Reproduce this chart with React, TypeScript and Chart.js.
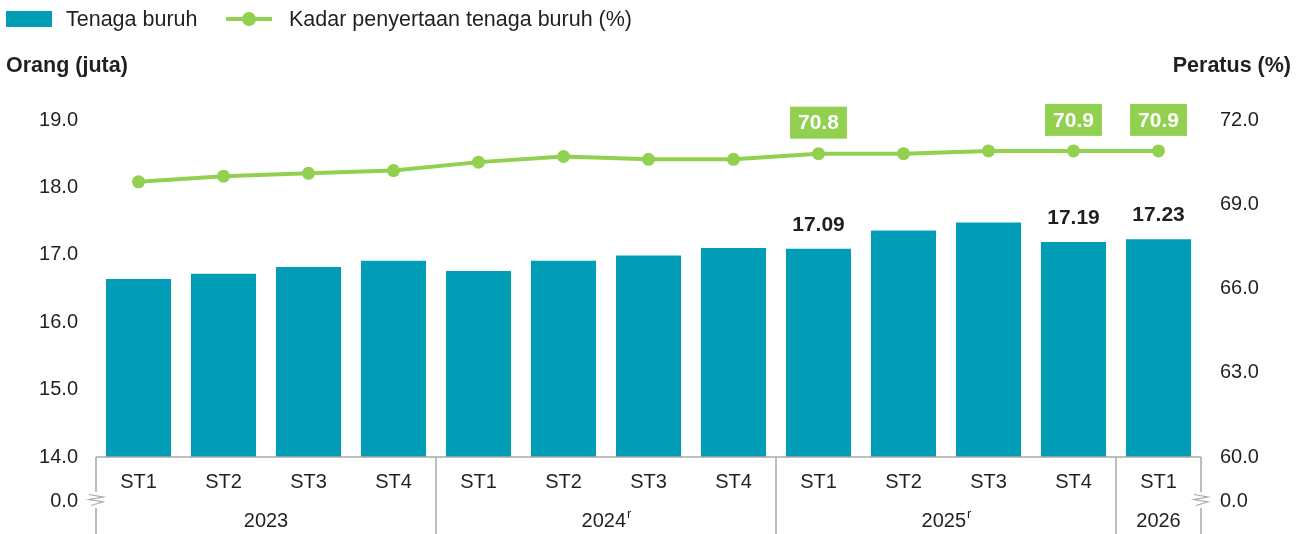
import React, { useEffect, useRef } from "react";
import { Chart, registerables } from "chart.js";

Chart.register(...registerables);

const quarters = ["ST1", "ST2", "ST3", "ST4", "ST1", "ST2", "ST3", "ST4", "ST1", "ST2", "ST3", "ST4", "ST1"];
const years = ["2023", "2024", "2025", "2026"];
const yearSuffix = ["", "r", "r", ""];
const yearSpans = [4, 4, 4, 1];
const labourForce = [16.64, 16.72, 16.82, 16.91, 16.76, 16.91, 16.99, 17.1, 17.09, 17.36, 17.48, 17.19, 17.23];
const participationRate = [69.8, 70.0, 70.1, 70.2, 70.5, 70.7, 70.6, 70.6, 70.8, 70.8, 70.9, 70.9, 70.9];
const labelledIndices = [8, 11, 12];
const seriesNames = ["Tenaga buruh", "Kadar penyertaan tenaga buruh (%)"];
const axisTitles = ["Orang (juta)", "Peratus (%)"];
const axisZeroLabel = "0.0";

const FONT = '"Liberation Sans", Arial, Helvetica, sans-serif';
const TEXT = "#231F20";
const TEAL = "#019DB6";
const GREEN = "#92D050";
const AXIS = "#A8A8A8";

const overlayPlugin = {
  id: "overlay",
  afterDraw(chart: any) {
    const ctx: CanvasRenderingContext2D = chart.ctx;
    const area = chart.chartArea;
    const xs = chart.scales.x;
    ctx.save();

    // Legend
    const ds0 = chart.data.datasets[0];
    const ds1 = chart.data.datasets[1];
    ctx.fillStyle = ds0.backgroundColor;
    ctx.fillRect(6, 11, 46, 16);
    ctx.font = `21.5px ${FONT}`;
    ctx.fillStyle = TEXT;
    ctx.textBaseline = "middle";
    ctx.textAlign = "left";
    ctx.fillText(ds0.label, 66, 20);
    ctx.strokeStyle = ds1.borderColor;
    ctx.lineWidth = 4;
    ctx.beginPath();
    ctx.moveTo(226, 19);
    ctx.lineTo(272, 19);
    ctx.stroke();
    ctx.fillStyle = ds1.borderColor;
    ctx.beginPath();
    ctx.arc(249, 19, 7, 0, Math.PI * 2);
    ctx.fill();
    ctx.fillStyle = TEXT;
    ctx.fillText(ds1.label, 289, 20);

    // Axis titles
    ctx.font = `bold 21.5px ${FONT}`;
    ctx.textBaseline = "alphabetic";
    ctx.textAlign = "left";
    ctx.fillText(axisTitles[0], 6, 72);
    ctx.textAlign = "right";
    ctx.fillText(axisTitles[1], 1291, 72);

    // Value labels
    const barMeta = chart.getDatasetMeta(0);
    const lineMeta = chart.getDatasetMeta(1);
    ctx.font = `bold 21px ${FONT}`;
    ctx.textAlign = "center";
    ctx.textBaseline = "middle";
    labelledIndices.forEach((i) => {
      const bar = barMeta.data[i];
      ctx.fillStyle = TEXT;
      ctx.fillText(labourForce[i].toFixed(2), bar.x, bar.y - 24);
      const pt = lineMeta.data[i];
      const txt = participationRate[i].toFixed(1);
      const w = ctx.measureText(txt).width + 16;
      const h = 32;
      const cy = pt.y - 31;
      ctx.fillStyle = GREEN;
      ctx.fillRect(pt.x - w / 2, cy - h / 2, w, h);
      ctx.fillStyle = "#FFFFFF";
      ctx.fillText(txt, pt.x, cy + 1);
    });

    // Bottom category axis
    const bottom = chart.height;
    const gapTop = 492;
    const gapBottom = 508;
    ctx.strokeStyle = AXIS;
    ctx.lineWidth = 1.5;
    ctx.beginPath();
    ctx.moveTo(area.left, area.bottom);
    ctx.lineTo(area.right, area.bottom);
    ctx.stroke();
    [area.left, area.right].forEach((x) => {
      ctx.beginPath();
      ctx.moveTo(x, area.bottom);
      ctx.lineTo(x, gapTop);
      ctx.moveTo(x, gapBottom);
      ctx.lineTo(x, bottom);
      ctx.stroke();
      // break mark (zigzag)
      ctx.lineWidth = 1.2;
      ctx.beginPath();
      ctx.moveTo(x - 7, 494.5);
      ctx.lineTo(x + 7, 497);
      ctx.lineTo(x - 7, 499.5);
      ctx.lineTo(x + 7, 502);
      ctx.lineTo(x - 5, 505.5);
      ctx.stroke();
      ctx.lineWidth = 1.5;
    });
    let idx = 0;
    const bounds: number[] = [area.left];
    yearSpans.forEach((span) => {
      idx += span;
      if (idx < quarters.length) {
        const b = (xs.getPixelForValue(idx - 1) + xs.getPixelForValue(idx)) / 2;
        bounds.push(b);
        ctx.beginPath();
        ctx.moveTo(b, area.bottom);
        ctx.lineTo(b, bottom);
        ctx.stroke();
      }
    });
    bounds.push(area.right);

    ctx.fillStyle = TEXT;
    ctx.font = `20px ${FONT}`;
    ctx.textAlign = "center";
    ctx.textBaseline = "middle";
    quarters.forEach((q, i) => {
      ctx.fillText(q, xs.getPixelForValue(i), 482);
    });
    years.forEach((y, i) => {
      const cx = (bounds[i] + bounds[i + 1]) / 2;
      ctx.font = `20px ${FONT}`;
      if (yearSuffix[i]) {
        const w = ctx.measureText(y).width;
        ctx.font = `13px ${FONT}`;
        const sw = ctx.measureText(yearSuffix[i]).width;
        const start = cx - (w + sw) / 2;
        ctx.textAlign = "left";
        ctx.font = `20px ${FONT}`;
        ctx.fillText(y, start, 521);
        ctx.font = `13px ${FONT}`;
        ctx.fillText(yearSuffix[i], start + w + 1, 514);
        ctx.textAlign = "center";
      } else {
        ctx.fillText(y, cx, 521);
      }
    });

    ctx.font = `20px ${FONT}`;
    ctx.textAlign = "right";
    ctx.fillText(axisZeroLabel, area.left - 18, 501);
    ctx.textAlign = "left";
    ctx.fillText(axisZeroLabel, area.right + 19, 501);

    ctx.restore();
  },
};

export default function App() {
  const ref = useRef<HTMLCanvasElement | null>(null);

  useEffect(() => {
    if (!ref.current) return;
    const tickFont = { family: FONT, size: 20 };
    const chart = new Chart(ref.current, {
      type: "bar",
      data: {
        labels: quarters,
        datasets: [
          {
            type: "bar",
            label: seriesNames[0],
            data: labourForce,
            backgroundColor: TEAL,
            barPercentage: 0.765,
            categoryPercentage: 1,
            yAxisID: "y",
            order: 2,
          },
          {
            type: "line",
            label: seriesNames[1],
            data: participationRate,
            borderColor: GREEN,
            backgroundColor: GREEN,
            borderWidth: 4,
            pointRadius: 6.5,
            pointBackgroundColor: GREEN,
            pointBorderWidth: 0,
            tension: 0,
            yAxisID: "y1",
            order: 1,
          },
        ] as any,
      },
      options: {
        responsive: false,
        animation: false,
        devicePixelRatio: 1,
        layout: { padding: { top: 120, bottom: 77, left: 0, right: 0 } },
        plugins: { legend: { display: false }, tooltip: { enabled: false } },
        scales: {
          x: { display: false, offset: true },
          y: {
            position: "left",
            min: 14,
            max: 19,
            ticks: {
              stepSize: 1,
              callback: (v: any) => Number(v).toFixed(1),
              font: tickFont,
              color: TEXT,
              padding: 18,
            },
            grid: { display: false, drawTicks: false },
            border: { display: false },
            afterFit: (s: any) => {
              s.width = 96;
            },
          },
          y1: {
            position: "right",
            min: 60,
            max: 72,
            ticks: {
              stepSize: 3,
              callback: (v: any) => Number(v).toFixed(1),
              font: tickFont,
              color: TEXT,
              padding: 19,
            },
            grid: { display: false, drawTicks: false },
            border: { display: false },
            afterFit: (s: any) => {
              s.width = 104;
            },
          },
        },
      } as any,
      plugins: [overlayPlugin],
    });
    return () => chart.destroy();
  }, []);

  return (
    <div style={{ position: "fixed", left: 0, top: 0, width: 1305, height: 534, background: "#fff" }}>
      <canvas ref={ref} width={1305} height={534} style={{ display: "block" }} />
    </div>
  );
}
